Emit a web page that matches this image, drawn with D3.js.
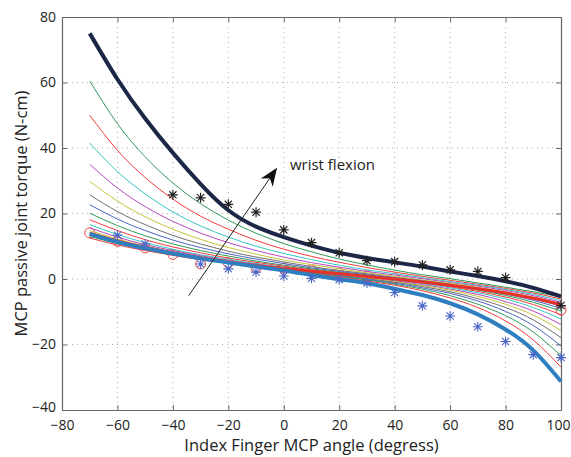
<!DOCTYPE html>
<html>
<head>
<meta charset="utf-8">
<script src="https://cdn.jsdelivr.net/npm/d3@7"></script>
<style>
  body { margin: 0; background: #fff; }
  text { font-family: "Open Sans", "Noto Sans", sans-serif; fill: #222; }
</style>
</head>
<body>
<script>
// MCP angle samples (deg)
const angles = [-70, -60, -50, -40, -30, -20, -10, 0, 10, 20, 30, 40, 50, 60, 70, 80, 90, 100];

// thin model curves, one per wrist angle (top at left = first)
const thinTorque = [
  [60.5, 47.4, 37.3, 29.3, 23.0, 18.0, 14.0, 10.8, 8.3, 6.1, 4.3, 2.7, 1.3, 0.1, -1.2, -2.5, -3.9, -5.5],
  [50.0, 39.3, 31.0, 24.4, 19.2, 15.2, 11.8, 9.1, 6.9, 5.1, 3.5, 2.1, 0.8, -0.4, -1.6, -2.9, -4.3, -6.1],
  [41.5, 32.8, 26.0, 20.5, 16.2, 12.8, 10.0, 7.8, 5.9, 4.2, 2.8, 1.6, 0.4, -0.8, -1.9, -3.2, -4.7, -6.6],
  [35.0, 27.8, 22.1, 17.6, 14.0, 11.1, 8.7, 6.7, 5.0, 3.6, 2.3, 1.2, 0.1, -1.1, -2.2, -3.5, -5.1, -7.1],
  [29.8, 23.8, 19.0, 15.2, 12.1, 9.6, 7.6, 5.8, 4.4, 3.1, 1.9, 0.8, -0.3, -1.3, -2.5, -3.9, -5.5, -7.6],
  [25.7, 20.6, 16.6, 13.3, 10.7, 8.5, 6.7, 5.2, 3.8, 2.6, 1.6, 0.5, -0.5, -1.6, -2.8, -4.2, -6.0, -8.3],
  [22.7, 18.3, 14.8, 11.9, 9.6, 7.7, 6.1, 4.7, 3.4, 2.3, 1.3, 0.3, -0.7, -1.8, -3.1, -4.6, -6.5, -9.0],
  [20.1, 16.3, 13.2, 10.7, 8.7, 7.0, 5.5, 4.2, 3.1, 2.0, 1.1, 0.1, -1.0, -2.1, -3.4, -5.0, -7.1, -9.8],
  [18.1, 14.8, 12.0, 9.8, 8.0, 6.4, 5.1, 3.9, 2.8, 1.8, 0.8, -0.1, -1.2, -2.4, -3.8, -5.5, -7.8, -10.9],
  [16.6, 13.6, 11.1, 9.1, 7.4, 6.0, 4.7, 3.6, 2.6, 1.6, 0.7, -0.4, -1.4, -2.7, -4.2, -6.1, -8.7, -12.2],
  [15.6, 12.8, 10.5, 8.7, 7.1, 5.7, 4.5, 3.4, 2.4, 1.5, 0.5, -0.6, -1.7, -3.1, -4.7, -6.9, -9.8, -13.9],
  [14.8, 12.2, 10.1, 8.3, 6.8, 5.5, 4.3, 3.3, 2.3, 1.3, 0.3, -0.8, -2.0, -3.4, -5.3, -7.7, -11.0, -15.7],
  [14.1, 11.6, 9.6, 8.0, 6.5, 5.3, 4.2, 3.1, 2.1, 1.1, 0.1, -1.0, -2.3, -3.9, -6.0, -8.7, -12.5, -17.9],
  [13.5, 11.2, 9.3, 7.7, 6.3, 5.1, 4.0, 3.0, 2.0, 1.0, -0.1, -1.3, -2.7, -4.4, -6.7, -9.9, -14.2, -20.4],
  [13.0, 10.8, 9.0, 7.4, 6.1, 4.9, 3.9, 2.8, 1.9, 0.8, -0.3, -1.6, -3.1, -5.1, -7.7, -11.2, -16.2, -23.4],
  [12.5, 10.4, 8.7, 7.2, 5.9, 4.8, 3.7, 2.7, 1.7, 0.6, -0.6, -1.9, -3.6, -5.8, -8.7, -12.8, -18.6, -26.9]
];
const thinColors = ["#2f9a5a", "#f23c3c", "#35c6c6", "#b847c2", "#c4c43a", "#707070", "#4a63c4"];

// thick curves
const flexTorque = [75, 61, 49, 38.5, 29, 21, 16, 12.8, 10.2, 8.0, 6.4, 5.1, 3.8, 2.3, 0.9, -0.7, -2.7, -5.3];
const extTorque = [13.8, 11.3, 9.4, 7.8, 6.3, 5.0, 3.8, 2.6, 1.2, -0.1, -1.3, -3.0, -4.9, -7.4, -10.8, -15.4, -21.8, -31.3];
const fitTorque = [14, 11.6, 9.6, 8, 6.5, 5.2, 4.1, 3.2, 2.4, 1.6, 0.8, 0, -0.9, -1.9, -3, -4.3, -5.9, -7.8];

// measured points
const flexStarX = [-40, -30, -20, -10, 0, 10, 20, 30, 40, 50, 60, 70, 80, 100];
const flexStarY = [25.7, 24.8, 22.8, 20.4, 15, 11.1, 8, 5.6, 5.3, 4.3, 2.8, 2.3, 0.4, -8.1];
const extStarX = [-60, -50, -30, -20, -10, 0, 10, 20, 30, 40, 50, 60, 70, 80, 90, 100];
const extStarY = [13.4, 10.7, 4.6, 3.1, 2.1, 0.9, 0.2, -0.2, -1.2, -4.1, -8.2, -11.3, -14.6, -19.1, -23.1, -24];
const circleX = [-70, -60, -50, -40, -30, -20, -10, 0, 10, 20, 30, 40, 100];
const circleY = [14.1, 11.5, 9.5, 7.5, 4.6, 4.9, 3.4, 3.3, 2.8, 1.8, 1.0, 0.2, -9.5];

const xTicks = [-80, -60, -40, -20, 0, 20, 40, 60, 80, 100];
const yTicks = [-40, -20, 0, 20, 40, 60, 80];

const W = 571, H = 457;
const M = {top: 17, right: 10, bottom: 47, left: 62};

const svg = d3.select("body").append("svg")
  .attr("width", W).attr("height", H);

const x = d3.scaleLinear().domain([-80, 100]).range([M.left, W - M.right]);
const y = d3.scaleLinear().domain([-40, 80]).range([H - M.bottom, M.top]);

const fmt = d => d < 0 ? "\u2212" + Math.abs(d) : String(d);

// grid
svg.append("g").selectAll("line").data(xTicks.slice(1, -1)).join("line")
  .attr("x1", d => x(d)).attr("x2", d => x(d))
  .attr("y1", y(80)).attr("y2", y(-40))
  .attr("stroke", "#9a9a9a").attr("stroke-width", 0.8).attr("stroke-dasharray", "1,4");
svg.append("g").selectAll("line").data(yTicks.slice(1, -1)).join("line")
  .attr("x1", x(-80)).attr("x2", x(100))
  .attr("y1", d => y(d)).attr("y2", d => y(d))
  .attr("stroke", "#9a9a9a").attr("stroke-width", 0.8).attr("stroke-dasharray", "1,4");

// axes (ticks inside, like matlab)
const xAxis = svg.append("g").attr("transform", `translate(0,${y(-40)})`)
  .call(d3.axisBottom(x).tickValues(xTicks).tickFormat(fmt).tickSizeInner(-5).tickSizeOuter(0).tickPadding(10));
const xTop = svg.append("g").attr("transform", `translate(0,${y(80)})`)
  .call(d3.axisTop(x).tickValues(xTicks).tickFormat("").tickSizeInner(-5).tickSizeOuter(0));
const yAxis = svg.append("g").attr("transform", `translate(${x(-80)},0)`)
  .call(d3.axisLeft(y).tickValues(yTicks).tickFormat(fmt).tickSizeInner(-5).tickSizeOuter(0).tickPadding(6));
const yRight = svg.append("g").attr("transform", `translate(${x(100)},0)`)
  .call(d3.axisRight(y).tickValues(yTicks).tickFormat("").tickSizeInner(-5).tickSizeOuter(0));

[xAxis, xTop, yAxis, yRight].forEach(g => {
  g.select(".domain").attr("stroke", "#666").attr("stroke-width", 1.2);
  g.selectAll(".tick line").attr("stroke", "#666");
  g.selectAll("text").style("font-size", "14px").attr("fill", "#222");
});
yAxis.selectAll(".tick text").filter(d => d === -40).attr("dy", "0.1em");
// keep the last x label inside the window
xAxis.selectAll(".tick text").filter(d => d === 100)
  .attr("text-anchor", "end").attr("x", W - 1 - x(100));

// red circles (under the curves)
svg.append("g").selectAll("circle").data(circleX).join("circle")
  .attr("cx", d => x(d)).attr("cy", (d, i) => y(circleY[i])).attr("r", 5)
  .attr("fill", "none").attr("stroke", "#f04040").attr("stroke-width", 1);

const line = d3.line()
  .x((d, i) => x(angles[i]))
  .y(d => y(d))
  .curve(d3.curveNatural);

svg.append("g").selectAll("path").data(thinTorque).join("path")
  .attr("d", line)
  .attr("fill", "none")
  .attr("stroke", (d, i) => thinColors[i % thinColors.length])
  .attr("stroke-width", 1);

svg.append("path").attr("d", line(fitTorque))
  .attr("fill", "none").attr("stroke", "#e8302a").attr("stroke-width", 3);
svg.append("path").attr("d", line(extTorque))
  .attr("fill", "none").attr("stroke", "#2f7fc0").attr("stroke-width", 4);
svg.append("path").attr("d", line(flexTorque))
  .attr("fill", "none").attr("stroke", "#1c2747").attr("stroke-width", 4);

// asterisk markers
const star = r => {
  const q = r * 0.72;
  return `M${-r},0L${r},0M0,${-r}L0,${r}M${-q},${-q}L${q},${q}M${-q},${q}L${q},${-q}`;
};
svg.append("g").selectAll("path").data(extStarX).join("path")
  .attr("transform", (d, i) => `translate(${x(d)},${y(extStarY[i])})`)
  .attr("d", star(5)).attr("stroke", "#4a66c8").attr("stroke-width", 1.1).attr("fill", "none");
svg.append("g").selectAll("path").data(flexStarX).join("path")
  .attr("transform", (d, i) => `translate(${x(d)},${y(flexStarY[i])})`)
  .attr("d", star(5)).attr("stroke", "#222").attr("stroke-width", 1.2).attr("fill", "none");

// arrow annotation
const arrowFrom = [-34.3, -5.1], arrowTo = [-2.8, 33.5];
svg.append("defs").append("marker")
  .attr("id", "head").attr("viewBox", "0 0 10 10")
  .attr("refX", 9).attr("refY", 5)
  .attr("markerWidth", 18).attr("markerHeight", 18)
  .attr("markerUnits", "userSpaceOnUse")
  .attr("orient", "auto")
  .append("path").attr("d", "M0,1L10,5L0,9L3,5Z").attr("fill", "#111");
svg.append("line")
  .attr("x1", x(arrowFrom[0])).attr("y1", y(arrowFrom[1]))
  .attr("x2", x(arrowTo[0])).attr("y2", y(arrowTo[1]))
  .attr("stroke", "#222").attr("stroke-width", 1)
  .attr("marker-end", "url(#head)");
svg.append("text")
  .attr("x", x(2.2)).attr("y", y(33.3))
  .style("font-size", "15px")
  .text("wrist flexion");

// axis titles
svg.append("text")
  .attr("x", (x(-80) + x(100)) / 2).attr("y", 451)
  .attr("text-anchor", "middle")
  .style("font-size", "16.5px")
  .text("Index Finger MCP angle (degress)");
svg.append("text")
  .attr("transform", `translate(27,${(y(80) + y(-40)) / 2}) rotate(-90)`)
  .attr("text-anchor", "middle")
  .style("font-size", "16.5px")
  .text("MCP passive joint torque (N-cm)");
</script>
</body>
</html>
